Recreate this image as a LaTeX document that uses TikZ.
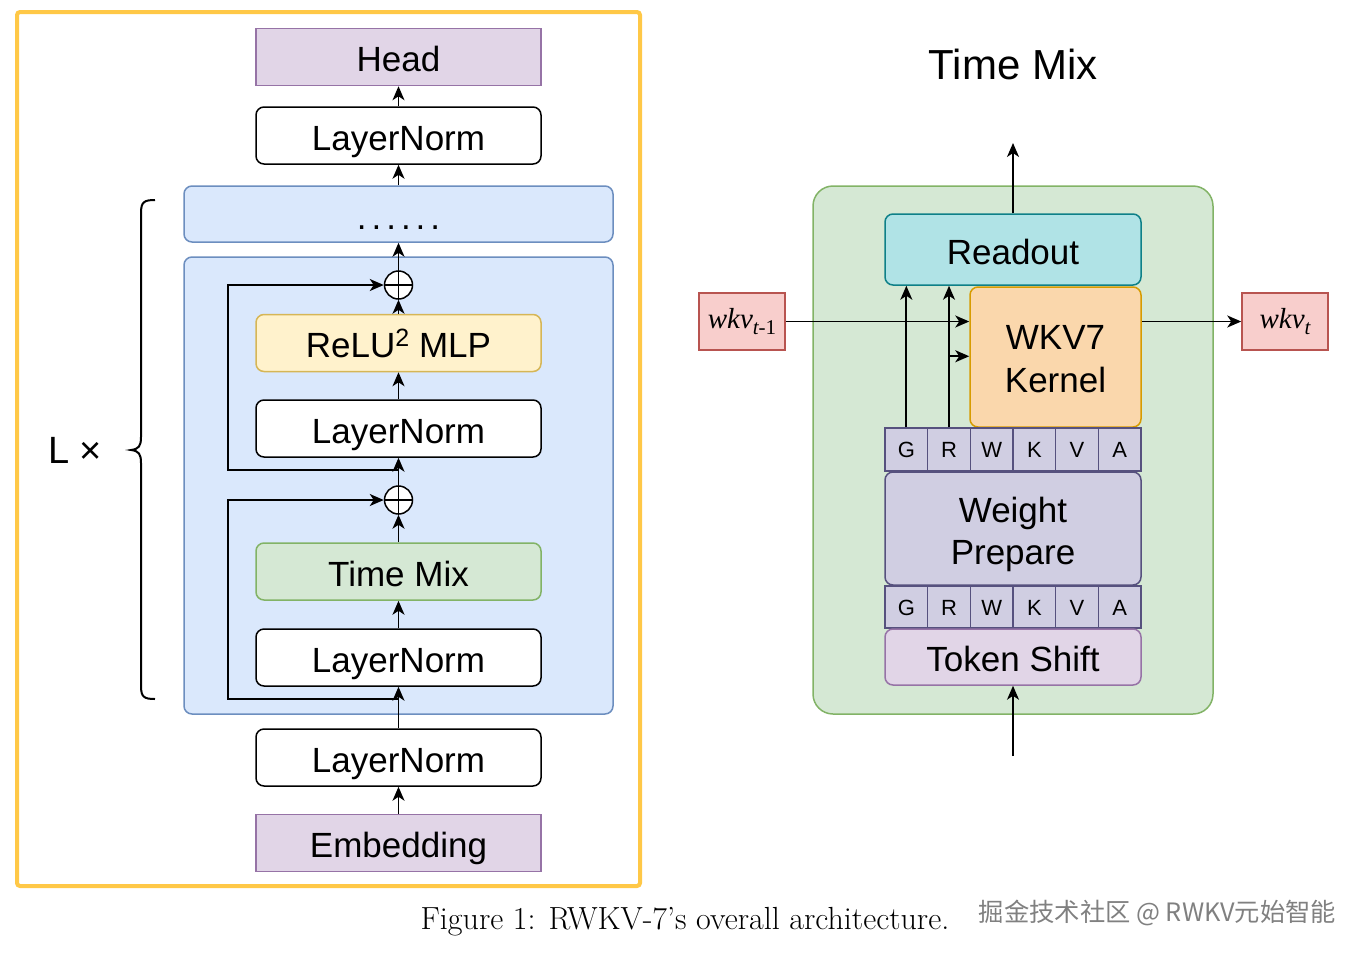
\documentclass[tikz,border=0pt]{standalone}
\usepackage{fontspec}
\setsansfont{Liberation Sans}
\newfontfamily\wkvserif{Liberation Serif}
\newfontfamily\cjkfont{Noto Sans CJK SC}
\usetikzlibrary{arrows.meta,calc}
\definecolor{frameY}{HTML}{FFC847}
\definecolor{blueF}{HTML}{DAE8FC}\definecolor{blueD}{HTML}{6C8EBF}
\definecolor{purF}{HTML}{E1D5E7}\definecolor{purD}{HTML}{9673A6}
\definecolor{yelF}{HTML}{FFF2CC}\definecolor{yelD}{HTML}{D6B656}
\definecolor{grnF}{HTML}{D5E8D4}\definecolor{grnD}{HTML}{82B366}
\definecolor{cyaF}{HTML}{B0E3E6}\definecolor{cyaD}{HTML}{0E8088}
\definecolor{orgF}{HTML}{FAD7AC}\definecolor{orgD}{HTML}{D79B00}
\definecolor{lavF}{HTML}{D0CEE2}\definecolor{lavD}{HTML}{56517E}
\definecolor{redF}{HTML}{F8CECC}\definecolor{redD}{HTML}{B85450}
\tikzset{
  txt/.style={font=\sffamily\fontsize{35}{42}\selectfont},
  blk/.style={draw, line width=1.5pt, rounded corners=8pt, inner sep=0pt, align=center, txt},
  one/.style={text height=29pt, text depth=0pt},
  two/.style={text height=71pt, text depth=0pt},
  lbox/.style={blk, one, minimum width=285pt, minimum height=57pt},
  arr/.style={-{Stealth[length=14pt,width=12pt,inset=4pt]}, line width=1.8pt},
  plus/.style={circle, draw, fill=white, line width=1.5pt, minimum size=28pt, inner sep=0pt},
  cell/.style={draw=lavD, fill=lavF, line width=1.5pt, minimum width=42.67pt, inner sep=0pt, text height=16pt, text depth=0pt, font=\sffamily\fontsize{22}{24}\selectfont},
  wbox/.style={draw=redD, fill=redF, line width=1.5pt, minimum width=86pt, minimum height=57pt, inner sep=0pt},
}
\begin{document}
\begin{tikzpicture}[x=1pt,y=-1pt]
\useasboundingbox (0,0) rectangle (1361,954);
% ---------- left ----------
\node[draw=frameY, line width=4pt, rounded corners=3pt, minimum width=623pt, minimum height=874pt] (frame) at (328.5,449) {};
\node[lbox, rounded corners=0pt, fill=purF, draw=purD] (head) at (398.5,57) {Head};
\node[lbox, fill=white] (lnA) at (398.5,135.5) {LayerNorm};
\node[blk, fill=blueF, draw=blueD, minimum width=429pt, minimum height=56pt] (dots) at (398.5,214) {};
\node[anchor=base, txt] (dotstxt) at (398.5,229) {.\kern5pt.\kern5pt.\kern5pt.\kern5pt.\kern5pt.};
\node[blk, fill=blueF, draw=blueD, minimum width=429pt, minimum height=457pt] (block) at (398.5,485.5) {};
\node[plus] (plusA) at (398.5,285) {};
\node[lbox, fill=yelF, draw=yelD] (mlp) at (398.5,343) {ReLU\raisebox{11pt}{\fontsize{25}{25}\selectfont 2} MLP};
\node[lbox, fill=white] (lnB) at (398.5,428.5) {LayerNorm};
\node[plus] (plusB) at (398.5,500) {};
\node[lbox, fill=grnF, draw=grnD] (tmix) at (398.5,571.5) {Time Mix};
\node[lbox, fill=white] (lnC) at (398.5,657.5) {LayerNorm};
\node[lbox, fill=white] (lnD) at (398.5,757.5) {LayerNorm};
\node[lbox, rounded corners=0pt, fill=purF, draw=purD] (emb) at (398.5,843) {Embedding};
\foreach \p in {plusA,plusB}{
  \draw[line width=1.5pt] (\p.north) -- (\p.south) (\p.west) -- (\p.east);
}
\draw[arr] (emb.north) -- (lnD.south);
\draw[arr] (lnD.north) -- (lnC.south);
\draw[arr] (lnC.north) -- (tmix.south);
\draw[arr] (tmix.north) -- (plusB.south);
\draw[arr] (plusB.north) -- (lnB.south);
\draw[arr] (lnB.north) -- (mlp.south);
\draw[arr] (mlp.north) -- (plusA.south);
\draw[arr] (plusA.north) -- (dots.south);
\draw[arr] (dots.north) -- (lnA.south);
\draw[arr] (lnA.north) -- (head.south);
\coordinate (sA) at (398.5,470);
\coordinate (sB) at (398.5,699);
\draw[arr] (sA) -- ++(-170.5,0) |- (plusA.west);
\draw[arr] (sB) -- ++(-170.5,0) |- (plusB.west);
% brace
\draw[line width=2pt] (155,200) .. controls (144,200) and (141,202) .. (141,213) -- (141,437)
  .. controls (141,446) and (139,449) .. (131,450) .. controls (139,451) and (141,454) .. (141,463)
  -- (141,686) .. controls (141,697) and (144,699) .. (155,699);
\node[font=\sffamily\fontsize{38}{42}\selectfont] (Lx) at (75,450) {L ×};
% ---------- right ----------
\node[font=\sffamily\fontsize{42}{48}\selectfont] (title) at (1013,64) {Time Mix};
\node[draw=grnD, fill=grnF, line width=1.5pt, rounded corners=20pt, minimum width=400pt, minimum height=528pt] (tmbox) at (1013,450) {};
\node[blk, one, fill=cyaF, draw=cyaD, minimum width=256pt, minimum height=71pt] (readout) at (1013,249.5) {Readout};
\node[blk, two, font=\sffamily\fontsize{35}{43}\selectfont, fill=orgF, draw=orgD, minimum width=171pt, minimum height=140pt] (wkv) at (1055.5,357) {WKV7\\Kernel};
\foreach \l [count=\i] in {G,R,W,K,V,A}{
  \node[cell, minimum height=43pt] (up\i) at ({885+42.67*(\i-0.5)},449.5) {\l};
}
\node[blk, two, fill=lavF, draw=lavD, minimum width=256pt, minimum height=113pt] (wp) at (1013,528.5) {Weight\\Prepare};
\foreach \l [count=\i] in {G,R,W,K,V,A}{
  \node[cell, minimum height=42pt] (lo\i) at ({885+42.67*(\i-0.5)},607) {\l};
}
\node[blk, one, fill=purF, draw=purD, minimum width=256pt, minimum height=56pt] (ts) at (1013,657) {Token Shift};
\node[wbox] (wkvin) at (742,321.5) {\wkvserif\fontsize{29}{30}\selectfont\itshape wkv\raisebox{-6pt}{\fontsize{21}{22}\selectfont t\upshape -1}};
\node[wbox] (wkvout) at (1285,321.5) {\wkvserif\fontsize{29}{30}\selectfont\itshape wkv\raisebox{-6pt}{\fontsize{21}{22}\selectfont t}};
\coordinate (outtop) at (1013,143);
\coordinate (inbot) at (1013,756);
\draw[arr] (readout.north) -- (outtop);
\draw[arr] (inbot) -- (ts.south);
\draw[arr] (wkvin.east) -- (wkvin.east -| wkv.west);
\draw[arr] (wkvin.east -| wkv.east) -- (wkvout.west);
\draw[arr] (up1.north) -- (up1.north |- readout.south);
\draw[arr] (up2.north) -- (up2.north |- readout.south);
\coordinate (rb) at ($(up2.north)+(0,-71)$);
\draw[arr] (rb) -- (rb -| wkv.west);
% ---------- caption ----------
\node[font=\fontsize{32}{36}\selectfont] (cap) at (685,922) {Figure 1: RWKV-7’s overall architecture.};
\node[font=\cjkfont\fontsize{25.3}{28}\selectfont, text=gray] (wm) at (1157.5,913) {掘金技术社区 @ RWKV元始智能};
\end{tikzpicture}
\end{document}
